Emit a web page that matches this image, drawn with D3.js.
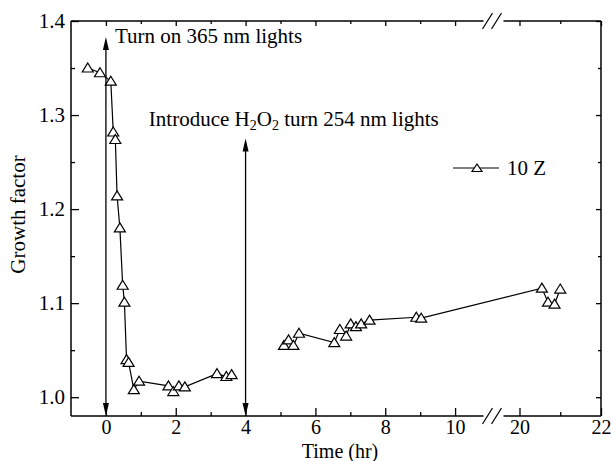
<!DOCTYPE html>
<html>
<head>
<meta charset="utf-8">
<script src="https://cdn.jsdelivr.net/npm/d3@7"></script>
<style>
  body { margin: 0; background: #fff; }
  svg text { font-family: "Liberation Serif", "Times New Roman", serif; fill: #000; }
</style>
</head>
<body>
<div id="chart"></div>
<script>
// data (time in hr, growth factor)
var timeHr = [-0.52, -0.17, 0.14, 0.21, 0.27, 0.32, 0.40, 0.48, 0.53, 0.59, 0.65, 0.80, 0.95,
  1.79, 1.93, 2.09, 2.26, 3.18, 3.45, 3.60,
  5.10, 5.23, 5.37, 5.53, 6.54, 6.70, 6.88, 7.01, 7.16, 7.31, 7.55, 8.89, 9.03,
  20.55, 20.70, 20.86, 21.00];
var growth = [1.350, 1.345, 1.336, 1.282, 1.274, 1.214, 1.180, 1.119, 1.101, 1.040, 1.037, 1.008, 1.017,
  1.012, 1.006, 1.012, 1.011, 1.025, 1.022, 1.024,
  1.055, 1.061, 1.055, 1.068, 1.058, 1.072, 1.065, 1.078, 1.075, 1.078, 1.082, 1.085, 1.084,
  1.116, 1.101, 1.099, 1.115];
var xMajor = [0, 2, 4, 6, 8, 10, 20, 22];
var xMinor = [1, 3, 5, 7, 9, 21];
var yMajor = [1.0, 1.1, 1.2, 1.3, 1.4];
var yMinor = [1.05, 1.15, 1.25, 1.35];
var seriesName = "10 Z";

var svgWidth = 611, svgHeight = 461;
var margin = { top: 21, right: 10, bottom: 45, left: 71 };
var width = svgWidth - margin.left - margin.right;
var height = svgHeight - margin.top - margin.bottom;

var svg = d3.select("#chart").append("svg")
  .attr("width", svgWidth)
  .attr("height", svgHeight);

var chartGroup = svg.append("g")
  .attr("transform", `translate(${margin.left}, ${margin.top})`);

// broken x axis: -1..11 then 19.35..22
var xScale = d3.scaleLinear()
  .domain([-1, 11, 19.35, 22])
  .range([0, 419, 422, width]);
var yScale = d3.scaleLinear()
  .domain([0.98, 1.4])
  .range([height, 0]);

var fs = 21;

// axes (ticks point inward)
function addAxis(axis, values, size, pad, transform) {
  var g = chartGroup.append("g")
    .attr("transform", transform)
    .call(axis.tickValues(values).tickSizeInner(-size).tickSizeOuter(0).tickPadding(pad));
  g.select(".domain").remove();
  g.selectAll("line").attr("stroke", "#000").attr("stroke-width", 1.3);
  g.selectAll("text").style("font-size", fs + "px").attr("fill", "#000");
  return g;
}

var xb = addAxis(d3.axisBottom(xScale), xMajor, 8, 4, `translate(0, ${height})`);
xb.selectAll("text").text(d => d).style("font-size", "20px");
addAxis(d3.axisBottom(xScale), xMinor, 4, 5, `translate(0, ${height})`).selectAll("text").remove();
addAxis(d3.axisTop(xScale), xMajor, 5, 5, "translate(0,0)").selectAll("text").remove();
addAxis(d3.axisTop(xScale), xMinor, 3, 5, "translate(0,0)").selectAll("text").remove();
var yl = addAxis(d3.axisLeft(yScale), yMajor, 8, 6, "translate(0,0)");
yl.selectAll("text").text(d => d.toFixed(1));
addAxis(d3.axisLeft(yScale), yMinor, 4, 6, "translate(0,0)").selectAll("text").remove();
addAxis(d3.axisRight(yScale), yMajor, 5, 6, `translate(${width},0)`).selectAll("text").remove();
addAxis(d3.axisRight(yScale), yMinor, 3, 6, `translate(${width},0)`).selectAll("text").remove();

// frame with a gap at the axis break
var brk = (xScale(11) + xScale(19.35)) / 2;
var frame = chartGroup.append("g").attr("stroke", "#000").attr("stroke-width", 1.5).attr("fill", "none");
frame.append("line").attr("x1", 0).attr("x2", 0).attr("y1", 0).attr("y2", height);
frame.append("line").attr("x1", width).attr("x2", width).attr("y1", 0).attr("y2", height);
[0, height].forEach(function(yy) {
  frame.append("line").attr("x1", 0).attr("x2", brk - 8).attr("y1", yy).attr("y2", yy);
  frame.append("line").attr("x1", brk + 12).attr("x2", width).attr("y1", yy).attr("y2", yy);
  [-4, 5].forEach(function(dx) {
    frame.append("line")
      .attr("x1", brk + dx - 5).attr("y1", yy + 8)
      .attr("x2", brk + dx + 5).attr("y2", yy - 8)
      .attr("stroke-width", 1.2);
  });
});

// data line, broken where the H2O2 was introduced
var points = timeHr.map((t, i) => ({ t: t, g: growth[i] }));
var lineGen = d3.line().x(d => xScale(d.t)).y(d => yScale(d.g));
[points.filter(d => d.t < 4), points.filter(d => d.t > 4)].forEach(function(seg) {
  chartGroup.append("path")
    .datum(seg)
    .attr("d", lineGen)
    .attr("fill", "none")
    .attr("stroke", "#000")
    .attr("stroke-width", 1.2);
});

var tri = "M0,-5L5.5,4L-5.5,4Z";
chartGroup.selectAll("path.pt")
  .data(points)
  .enter()
  .append("path")
  .attr("class", "pt")
  .attr("d", tri)
  .attr("transform", d => `translate(${xScale(d.t)},${yScale(d.g)})`)
  .attr("fill", "#fff")
  .attr("stroke", "#000")
  .attr("stroke-width", 1.2);

// arrows
function arrow(t, gTop) {
  var x = xScale(t), y1 = yScale(gTop), y2 = height;
  chartGroup.append("line")
    .attr("x1", x).attr("x2", x).attr("y1", y1 + 4).attr("y2", y2 - 4)
    .attr("stroke", "#000").attr("stroke-width", 1.3);
  chartGroup.append("path")
    .attr("d", `M${x},${y1}L${x + 3},${y1 + 13}L${x - 3},${y1 + 13}Z`)
    .attr("fill", "#000");
  chartGroup.append("path")
    .attr("d", `M${x},${y2}L${x + 3},${y2 - 13}L${x - 3},${y2 - 13}Z`)
    .attr("fill", "#000");
}
arrow(0, 1.383);
arrow(4, 1.275);

chartGroup.append("text")
  .attr("x", xScale(0.26))
  .attr("y", yScale(1.3766))
  .style("font-size", fs + "px")
  .text("Turn on 365 nm lights");

var intro = chartGroup.append("text")
  .attr("x", xScale(1.23))
  .attr("y", yScale(1.288))
  .style("font-size", fs + "px");
intro.append("tspan").text("Introduce H");
intro.append("tspan").attr("dy", 4).style("font-size", "14px").text("2");
intro.append("tspan").attr("dy", -4).text("O");
intro.append("tspan").attr("dy", 4).style("font-size", "14px").text("2");
intro.append("tspan").attr("dy", -4).text(" turn 254 nm lights");

// legend
var legend = chartGroup.append("g").attr("transform", "translate(382, 147)");
legend.append("line").attr("x1", 0).attr("x2", 46).attr("y1", 0).attr("y2", 0)
  .attr("stroke", "#000").attr("stroke-width", 1.2);
legend.append("path").attr("d", "M0,-4L5,3.5L-5,3.5Z").attr("transform", "translate(24,0)")
  .attr("fill", "#fff").attr("stroke", "#000").attr("stroke-width", 1.2);
legend.append("text").attr("x", 54).attr("y", 7).style("font-size", fs + "px").text(seriesName);

// axis titles
chartGroup.append("text")
  .attr("x", width / 2 + 4)
  .attr("y", height + 42)
  .attr("text-anchor", "middle")
  .style("font-size", "20px")
  .text("Time (hr)");

chartGroup.append("text")
  .attr("transform", "rotate(-90)")
  .attr("x", -(height / 2) + 4)
  .attr("y", 25 - margin.left)
  .attr("text-anchor", "middle")
  .style("font-size", fs + "px")
  .text("Growth factor");
</script>
</body>
</html>
